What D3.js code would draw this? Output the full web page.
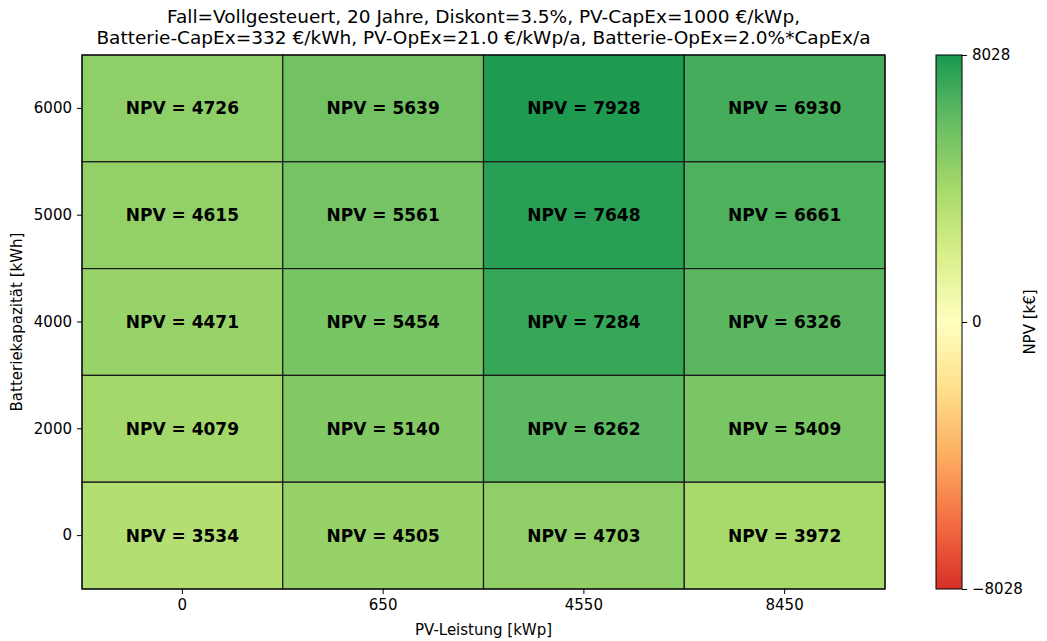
<!DOCTYPE html>
<html>
<head>
<meta charset="utf-8">
<script src="https://cdn.jsdelivr.net/npm/d3@7"></script>
<style>
  html, body { margin: 0; padding: 0; background: #fff; }
  svg { display: block; font-family: "DejaVu Sans", sans-serif; }
</style>
</head>
<body>
<svg id="chart" width="1047" height="641"></svg>
<script>
// PV capacity (columns) and battery capacity (rows, top to bottom)
const pvLevels = ["0", "650", "4550", "8450"];
const batteryLevels = ["6000", "5000", "4000", "2000", "0"];

// NPV in k€, one array per battery level, ordered by PV level
const npv6000 = [4726, 5639, 7928, 6930];
const npv5000 = [4615, 5561, 7648, 6661];
const npv4000 = [4471, 5454, 7284, 6326];
const npv2000 = [4079, 5140, 6262, 5409];
const npv0    = [3534, 4505, 4703, 3972];

const colorLimit = 8028;
const colorbarTicks = [8028, 0, -8028];

const titleLines = [
  "Fall=Vollgesteuert, 20 Jahre, Diskont=3.5%, PV-CapEx=1000 €/kWp,",
  "Batterie-CapEx=332 €/kWh, PV-OpEx=21.0 €/kWp/a, Batterie-OpEx=2.0%*CapEx/a"
];

const rows = [npv6000, npv5000, npv4000, npv2000, npv0];
const cells = [];
rows.forEach((vals, r) => vals.forEach((v, c) =>
  cells.push({ pv: pvLevels[c], bat: batteryLevels[r], value: v })));

// RdYlGn anchor colours, linearly interpolated, using the 0.1–0.9 part of the map
const rdylgn = ["#a50026","#d73027","#f46d43","#fdae61","#fee08b","#ffffbf",
                "#d9ef8b","#a6d96a","#66bd63","#1a9850","#006837"];
const baseMap = d3.scaleLinear()
  .domain(d3.range(rdylgn.length).map(i => i / (rdylgn.length - 1)))
  .range(rdylgn)
  .interpolate(d3.interpolateRgb);
const norm = d3.scaleLinear().domain([-colorLimit, colorLimit]).range([0.1, 0.9]);
const color = v => baseMap(norm(v));

const svg = d3.select("#chart");
const plot = { left: 82, right: 885, top: 55, bottom: 589 };

const x = d3.scaleBand().domain(pvLevels).range([plot.left, plot.right]).padding(0);
const y = d3.scaleBand().domain(batteryLevels).range([plot.top, plot.bottom]).padding(0);

// heatmap cells
svg.append("g").selectAll("rect").data(cells).join("rect")
  .attr("x", d => x(d.pv))
  .attr("y", d => y(d.bat))
  .attr("width", x.bandwidth())
  .attr("height", y.bandwidth())
  .attr("fill", d => color(d.value))
  .attr("stroke", "#1a1a1a")
  .attr("stroke-width", 1.2);

// value labels
svg.append("g").selectAll("text").data(cells).join("text")
  .attr("x", d => x(d.pv) + x.bandwidth() / 2)
  .attr("y", d => y(d.bat) + y.bandwidth() / 2)
  .attr("text-anchor", "middle")
  .attr("dominant-baseline", "central")
  .attr("font-size", "17px")
  .attr("font-weight", "bold")
  .attr("fill", "#000")
  .text(d => `NPV = ${d.value}`);

// frame
svg.append("rect")
  .attr("x", plot.left).attr("y", plot.top)
  .attr("width", plot.right - plot.left).attr("height", plot.bottom - plot.top)
  .attr("fill", "none").attr("stroke", "#000").attr("stroke-width", 1);

// axes
const xAxis = svg.append("g")
  .attr("transform", `translate(0,${plot.bottom})`)
  .call(d3.axisBottom(x).tickSizeOuter(0).tickSize(5).tickPadding(5));
const yAxis = svg.append("g")
  .attr("transform", `translate(${plot.left},0)`)
  .call(d3.axisLeft(y).tickSizeOuter(0).tickSize(5).tickPadding(5));
[xAxis, yAxis].forEach(a => {
  a.select(".domain").remove();
  a.selectAll("text").attr("font-size", "15px").attr("font-family", "DejaVu Sans").attr("fill", "#000");
  a.selectAll("line").attr("stroke", "#000").attr("stroke-width", 1);
});

// axis titles
svg.append("text")
  .attr("x", (plot.left + plot.right) / 2).attr("y", 635)
  .attr("text-anchor", "middle").attr("font-size", "15px")
  .text("PV-Leistung [kWp]");
svg.append("text")
  .attr("transform", `translate(22,${(plot.top + plot.bottom) / 2}) rotate(-90)`)
  .attr("text-anchor", "middle").attr("font-size", "15px")
  .text("Batteriekapazität [kWh]");

// title
svg.append("g").selectAll("text").data(titleLines).join("text")
  .attr("x", (plot.left + plot.right) / 2)
  .attr("y", (d, i) => 23 + i * 21)
  .attr("text-anchor", "middle")
  .attr("font-size", "18.5px")
  .text(d => d);

// colour bar
const cb = { x: 936, width: 26 };
const cbScale = d3.scaleLinear().domain([-colorLimit, colorLimit]).range([plot.bottom, plot.top]);
const grad = svg.append("defs").append("linearGradient")
  .attr("id", "cbGrad").attr("x1", 0).attr("y1", 1).attr("x2", 0).attr("y2", 0);
d3.range(0, 1.0001, 0.02).forEach(t => {
  grad.append("stop").attr("offset", t)
    .attr("stop-color", color(-colorLimit + t * 2 * colorLimit));
});
svg.append("rect")
  .attr("x", cb.x).attr("y", plot.top)
  .attr("width", cb.width).attr("height", plot.bottom - plot.top)
  .attr("fill", "url(#cbGrad)")
  .attr("stroke", "#000").attr("stroke-width", 1);
const cbAxis = svg.append("g")
  .attr("transform", `translate(${cb.x + cb.width},0)`)
  .call(d3.axisRight(cbScale).tickValues(colorbarTicks)
    .tickFormat(d => d < 0 ? "\u2212" + Math.abs(d) : String(d))
    .tickSize(5).tickPadding(5));
cbAxis.select(".domain").remove();
cbAxis.selectAll("text").attr("font-size", "15px").attr("font-family", "DejaVu Sans").attr("fill", "#000");
cbAxis.selectAll("line").attr("stroke", "#000");

svg.append("text")
  .attr("transform", `translate(1035,${(plot.top + plot.bottom) / 2}) rotate(-90)`)
  .attr("text-anchor", "middle").attr("font-size", "15px")
  .text("NPV [k€]");
</script>
</body>
</html>
